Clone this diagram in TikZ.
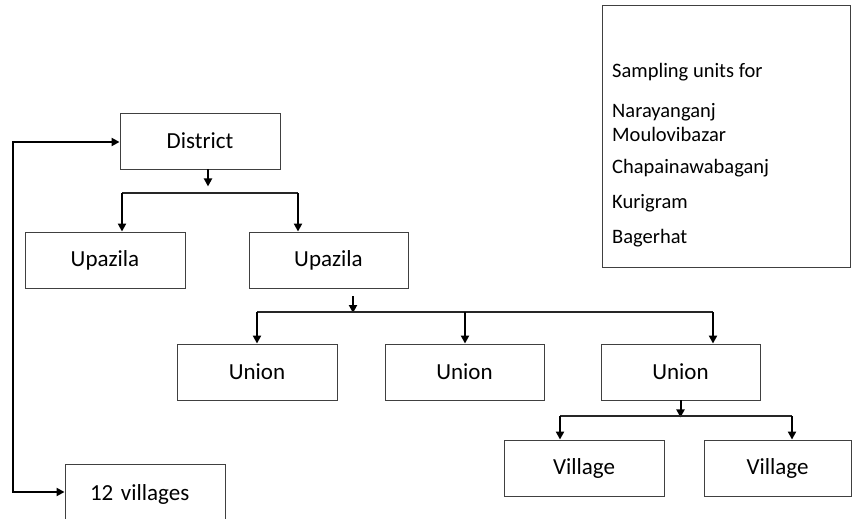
\documentclass[tikz,border=0pt]{standalone}
\usepackage{fontspec}
\setmainfont{Carlito}
\usetikzlibrary{arrows.meta}
\tikzset{
  box/.style={draw=black!75, line width=0.9pt, rectangle, minimum height=56pt, inner sep=0pt, font=\fontsize{23}{27}\selectfont},
  arr/.style={draw=black, line width=2pt, -{Triangle[length=8pt,width=8pt]}},
  bar/.style={draw=black!85, line width=1.2pt},
  leg/.style={anchor=west, inner sep=0pt, font=\fontsize{20.5}{24}\selectfont}
}
\begin{document}
\begin{tikzpicture}[x=1pt,y=-1pt]
\clip (0,0) rectangle (854,519);
\fill[white] (0,0) rectangle (854,519);
% boxes
\node[box, minimum width=160pt] (district) at (200,141) {District};
\node[box, minimum width=160pt] (up1) at (105,260) {Upazila};
\node[box, minimum width=159pt] (up2) at (328.5,260) {Upazila};
\node[box, minimum width=160pt] (un1) at (257,372) {Union};
\node[box, minimum width=159pt] (un2) at (464.5,372) {Union};
\node[box, minimum width=159pt] (un3) at (680.5,372) {Union};
\node[box, minimum width=160pt] (vil1) at (584,468) {Village};
\node[box, minimum width=147pt] (vil2) at (777.5,468) {Village};
\node[box, minimum height=60pt, text width=110pt, inner xsep=25pt, align=left, anchor=north] (vil12) at (145,464) {12 villages};
% legend
\node[draw=black!75, line width=0.9pt, minimum width=248pt, minimum height=262pt, anchor=north west, inner sep=0pt] (legend) at (602,5) {};
\node[leg] (l1) at (612,72) {Sampling units for};
\node[leg] (l2) at (612,112) {Narayanganj};
\node[leg] (l3) at (612,134) {Moulovibazar};
\node[leg] (l4) at (612,168) {Chapainawabaganj};
\node[leg] (l5) at (612,203) {Kurigram};
\node[leg] (l6) at (612,238) {Bagerhat};
% district -> upazilas
\coordinate (d1) at (122,193);
\coordinate (d2) at (298,193);
\draw[arr] ([xshift=8pt]district.south) -- ++(0,17);
\draw[bar] (d1) -- (d2);
\draw[arr] (d1) -- (d1 |- up1.north);
\draw[arr] (d2) -- (d2 |- up2.north);
% upazila -> unions
\coordinate (u1) at (257,312);
\coordinate (u2) at (465,312);
\coordinate (u3) at (713,312);
\draw[arr] (353,296) -- (353,313);
\draw[bar] (u1) -- (u3);
\draw[arr] (u1) -- (u1 |- un1.north);
\draw[arr] (u2) -- (u2 |- un2.north);
\draw[arr] (u3) -- (u3 |- un3.north);
% union -> villages
\coordinate (v1) at (560,416);
\coordinate (v2) at (792,416);
\draw[arr] (un3.south) -- ++(0,17);
\draw[bar] (v1) -- (v2);
\draw[arr] (v1) -- (v1 |- vil1.north);
\draw[arr] (v2) -- (v2 |- vil2.north);
% left loop
\draw[arr, {Triangle[length=8pt,width=8pt]}-{Triangle[length=8pt,width=8pt]}] (vil12.west |- 0,492) -- (13,492) -- (13,142) -- (district.west |- 0,142);
\end{tikzpicture}
\end{document}
